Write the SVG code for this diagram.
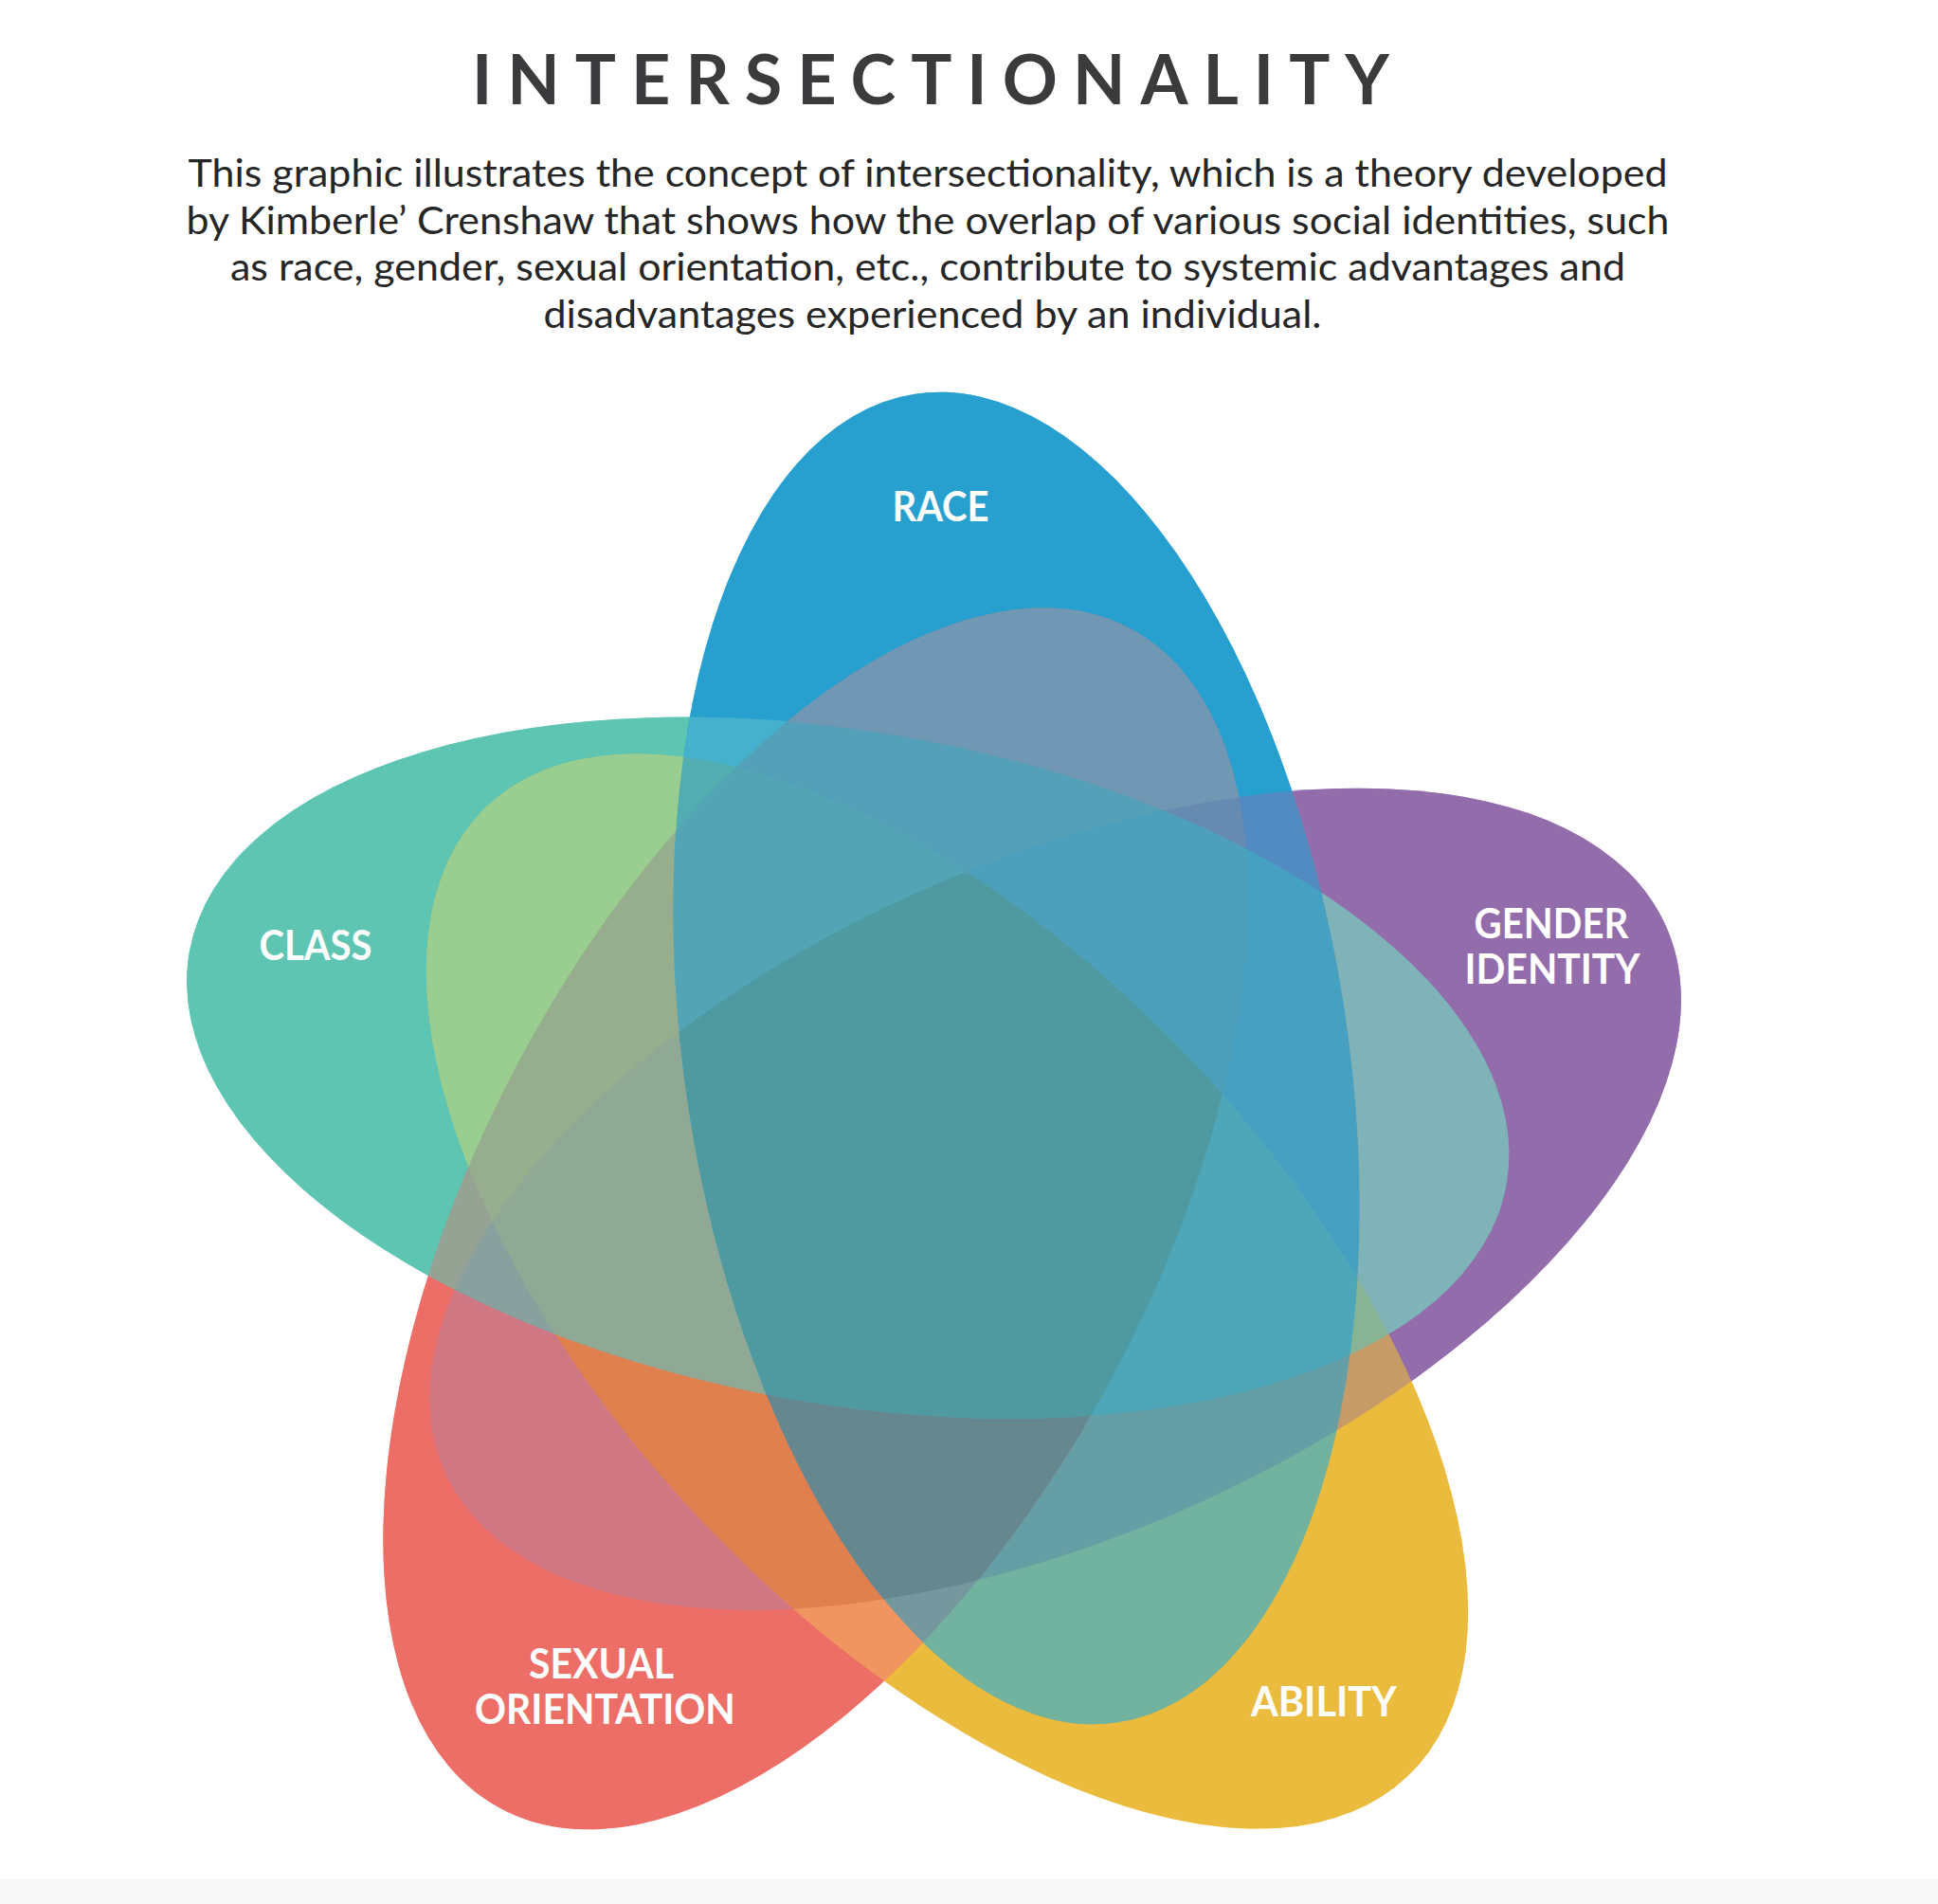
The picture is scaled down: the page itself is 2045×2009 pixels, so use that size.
<svg xmlns="http://www.w3.org/2000/svg" xmlns:xlink="http://www.w3.org/1999/xlink" width="2045" height="2009" viewBox="0 0 2045 2009">
<style>
.title{font-family:Lato,'Liberation Sans',sans-serif;font-weight:700;font-size:72px;fill:#3b3b3d}
.para{font-family:Lato,'Liberation Sans',sans-serif;font-size:40px;fill:#262626}
.lbl{font-family:Lato,'Liberation Sans',sans-serif;font-weight:700;font-size:43px;fill:#ffffff}
.blend{opacity:0.6}
.w{fill:#ffffff}
.k{fill:#000000}
</style>
<defs>
<ellipse id="e-race" cx="1072.5" cy="1116.5" rx="709" ry="350" transform="rotate(81.3 1072.5 1116.5)"/>
<ellipse id="e-class" cx="894.7" cy="1126.8" rx="705.6" ry="354.7" transform="rotate(10 894.7 1126.8)"/>
<ellipse id="e-gender" cx="1113.8" cy="1265.1" rx="705.6" ry="354.7" transform="rotate(-24.1 1113.8 1265.1)"/>
<ellipse id="e-so" cx="860.8" cy="1285.9" rx="705.6" ry="354.7" transform="rotate(118.1 860.8 1285.9)"/>
<ellipse id="e-ability" cx="999.5" cy="1362.5" rx="705.6" ry="354.7" transform="rotate(46.5 999.5 1362.5)"/>
<clipPath id="c-race"><use xlink:href="#e-race"/></clipPath>
<clipPath id="c-class"><use xlink:href="#e-class"/></clipPath>
<clipPath id="c-so"><use xlink:href="#e-so"/></clipPath>
<clipPath id="c-ability"><use xlink:href="#e-ability"/></clipPath>
<clipPath id="c-gender"><use xlink:href="#e-gender"/></clipPath>
<mask id="m-race-so" maskUnits="userSpaceOnUse" x="0" y="0" width="2045" height="2009">
<g clip-path="url(#c-race)"><use class="w" xlink:href="#e-so"/></g>
<use class="k" xlink:href="#e-class"/><use class="k" xlink:href="#e-ability"/><use class="k" xlink:href="#e-gender"/>
</mask>
<mask id="m-race-class" maskUnits="userSpaceOnUse" x="0" y="0" width="2045" height="2009">
<g clip-path="url(#c-race)"><use class="w" xlink:href="#e-class"/></g>
<use class="k" xlink:href="#e-so"/><use class="k" xlink:href="#e-ability"/><use class="k" xlink:href="#e-gender"/>
</mask>
<mask id="m-class-gender" maskUnits="userSpaceOnUse" x="0" y="0" width="2045" height="2009">
<g clip-path="url(#c-class)"><use class="w" xlink:href="#e-gender"/></g>
<use class="k" xlink:href="#e-race"/><use class="k" xlink:href="#e-so"/><use class="k" xlink:href="#e-ability"/>
</mask>
<mask id="m-so-gender" maskUnits="userSpaceOnUse" x="0" y="0" width="2045" height="2009">
<g clip-path="url(#c-so)"><use class="w" xlink:href="#e-gender"/></g>
<use class="k" xlink:href="#e-race"/><use class="k" xlink:href="#e-class"/><use class="k" xlink:href="#e-ability"/>
</mask>
<mask id="m-so-ability" maskUnits="userSpaceOnUse" x="0" y="0" width="2045" height="2009">
<g clip-path="url(#c-so)"><use class="w" xlink:href="#e-ability"/></g>
<use class="k" xlink:href="#e-race"/><use class="k" xlink:href="#e-class"/><use class="k" xlink:href="#e-gender"/>
</mask>
<mask id="m-class-ability" maskUnits="userSpaceOnUse" x="0" y="0" width="2045" height="2009">
<g clip-path="url(#c-class)"><use class="w" xlink:href="#e-ability"/></g>
<use class="k" xlink:href="#e-race"/><use class="k" xlink:href="#e-so"/><use class="k" xlink:href="#e-gender"/>
</mask>
<mask id="m-race-ability" maskUnits="userSpaceOnUse" x="0" y="0" width="2045" height="2009">
<g clip-path="url(#c-race)"><use class="w" xlink:href="#e-ability"/></g>
<use class="k" xlink:href="#e-class"/><use class="k" xlink:href="#e-so"/><use class="k" xlink:href="#e-gender"/>
</mask>
<mask id="m-so-ability-gender" maskUnits="userSpaceOnUse" x="0" y="0" width="2045" height="2009">
<g clip-path="url(#c-so)"><g clip-path="url(#c-ability)"><use class="w" xlink:href="#e-gender"/></g></g>
<use class="k" xlink:href="#e-race"/><use class="k" xlink:href="#e-class"/>
</mask>
<mask id="m-no-class" maskUnits="userSpaceOnUse" x="0" y="0" width="2045" height="2009">
<g clip-path="url(#c-race)"><g clip-path="url(#c-so)"><g clip-path="url(#c-ability)"><use class="w" xlink:href="#e-gender"/></g></g></g>
<use class="k" xlink:href="#e-class"/>
</mask>
</defs>
<rect width="2045" height="2009" fill="#ffffff"/>
<rect y="1983" width="2045" height="26" fill="#f8f8f8"/>
<g id="header">
<text class="title" x="982" y="110" text-anchor="middle" textLength="968" lengthAdjust="spacing">INTERSECTIONALITY</text>
<text class="para" x="979" y="197" text-anchor="middle" textLength="1561" lengthAdjust="spacingAndGlyphs">This graphic illustrates the concept of intersectionality, which is a theory developed</text>
<text class="para" x="979" y="246.5" text-anchor="middle" textLength="1565" lengthAdjust="spacingAndGlyphs">by Kimberle’ Crenshaw that shows how the overlap of various social identities, such</text>
<text class="para" x="979" y="296" text-anchor="middle" textLength="1472" lengthAdjust="spacingAndGlyphs">as race, gender, sexual orientation, etc., contribute to systemic advantages and</text>
<text class="para" x="984" y="345.5" text-anchor="middle" textLength="821" lengthAdjust="spacingAndGlyphs">disadvantages experienced by an individual.</text>
</g>
<g id="base-fill">
<use xlink:href="#e-race" fill="#27A0D0"/>
<use xlink:href="#e-class" fill="#5EC5B3"/>
<use xlink:href="#e-so" fill="#EC6E66"/>
<use xlink:href="#e-ability" fill="#EABB3D"/>
<use xlink:href="#e-gender" fill="#936DAB"/>
</g>
<g id="gender-identity">
<use class="blend" xlink:href="#e-gender" fill="#936DAB"/>
<text class="lbl" x="1637" y="990" text-anchor="middle" textLength="163" lengthAdjust="spacingAndGlyphs">GENDER</text>
<text class="lbl" x="1638" y="1038" text-anchor="middle" textLength="185" lengthAdjust="spacingAndGlyphs">IDENTITY</text>
</g>
<g id="ability">
<use class="blend" xlink:href="#e-ability" fill="#EABB3D"/>
<text class="lbl" x="1397" y="1811" text-anchor="middle" textLength="154" lengthAdjust="spacingAndGlyphs">ABILITY</text>
</g>
<g id="sexual-orientation">
<use class="blend" xlink:href="#e-so" fill="#EC6E66"/>
<text class="lbl" x="634.5" y="1771" text-anchor="middle" textLength="153" lengthAdjust="spacingAndGlyphs">SEXUAL</text>
<text class="lbl" x="638.4" y="1819" text-anchor="middle" textLength="275" lengthAdjust="spacingAndGlyphs">ORIENTATION</text>
</g>
<g id="class">
<use class="blend" xlink:href="#e-class" fill="#5EC5B3"/>
<text class="lbl" x="333" y="1013" text-anchor="middle" textLength="119" lengthAdjust="spacingAndGlyphs">CLASS</text>
</g>
<g id="race">
<use class="blend" xlink:href="#e-race" fill="#27A0D0"/>
<text class="lbl" x="992.5" y="550" text-anchor="middle" textLength="102" lengthAdjust="spacingAndGlyphs">RACE</text>
</g>
<g id="overlap-tints">
<rect width="2045" height="2009" fill="#7097B3" mask="url(#m-race-so)"/>
<rect width="2045" height="2009" fill="#45B1CD" mask="url(#m-race-class)"/>
<rect width="2045" height="2009" fill="#7FB3B8" mask="url(#m-class-gender)"/>
<rect width="2045" height="2009" fill="#D07784" mask="url(#m-so-gender)"/>
<rect width="2045" height="2009" fill="#F0955F" mask="url(#m-so-ability)"/>
<rect width="2045" height="2009" fill="#9ACE91" mask="url(#m-class-ability)"/>
<rect width="2045" height="2009" fill="#72B3A0" mask="url(#m-race-ability)"/>
<rect width="2045" height="2009" fill="#E1804F" mask="url(#m-so-ability-gender)"/>
<rect width="2045" height="2009" fill="#67878F" mask="url(#m-no-class)"/>
</g>
<g id="all-five-overlap" clip-path="url(#c-race)"><g clip-path="url(#c-class)"><g clip-path="url(#c-so)"><g clip-path="url(#c-ability)">
<use xlink:href="#e-gender" fill="#4F9AA0"/>
</g></g></g></g>
<g id="connectors"/>
</svg>
